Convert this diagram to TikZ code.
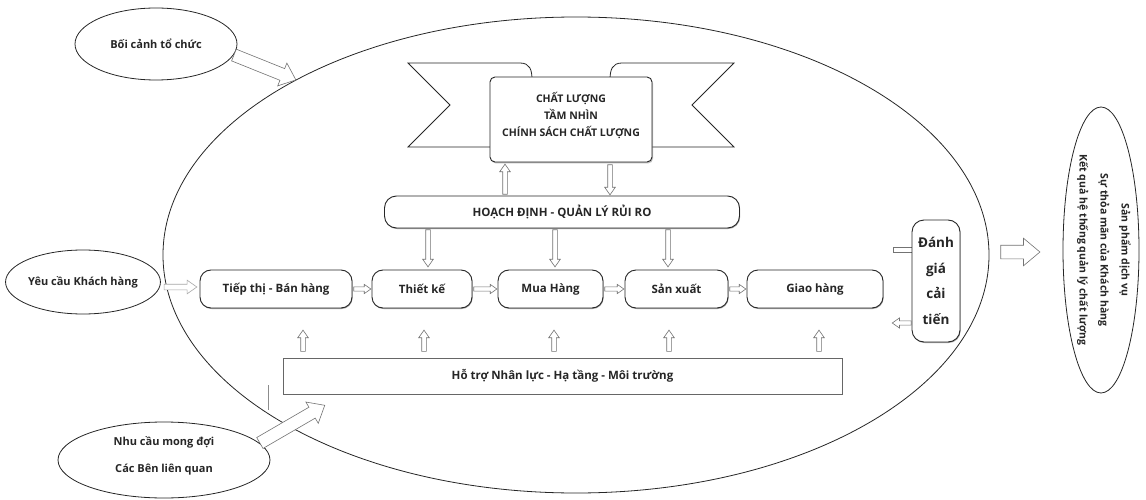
\documentclass[tikz,border=0pt]{standalone}
\usepackage{fontspec}
\setmainfont{Open Sans}
\usetikzlibrary{shapes.geometric,shapes.arrows,calc,shadows}
\newcommand\blockarrow[3][]{%
  \path let \p1=($(#3)-(#2)$), \n1={veclen(\x1,\y1)}, \n2={atan2(\y1,\x1)} in
    node[arr,#1,minimum height=\n1,rotate=\n2,anchor=tail] at (#2) {};}
\tikzset{
  every node/.style={font=\bfseries\fontsize{11.5}{13}\selectfont, text=black!85},
  oval/.style={ellipse, draw=black!85, line width=0.8pt, fill=white, inner sep=0pt, align=center},
  proc/.style={draw=black!85, line width=0.9pt, rounded corners=11pt, fill=white, minimum height=38,
    inner sep=0pt, font=\bfseries\fontsize{11.5}{13}\selectfont,
    drop shadow={shadow xshift=0.6pt, shadow yshift=-1pt, fill=black!60, opacity=0.6}},
  arr/.style={single arrow, draw=black!55, fill=white, line width=0.6pt, inner xsep=0pt,
    single arrow head indent=0pt},
  arrsmall/.style={inner ysep=2pt, single arrow head extend=3pt, single arrow tip angle=70},
  arrbig/.style={inner ysep=6pt, single arrow head extend=6pt, single arrow tip angle=80},
}
\begin{document}
\begin{tikzpicture}[x=1pt,y=-1pt]
\useasboundingbox (0,0) rectangle (1146,500);
% outer shapes
\node[oval, minimum width=826, minimum height=476] (big) at (576,255) {};
\node[oval, minimum width=162, minimum height=72, font=\bfseries\fontsize{11}{13}\selectfont] (ctx) at (156,44) {Bối cảnh tổ chức};
\node[oval, minimum width=146, minimum height=64, font=\bfseries\fontsize{11}{13}\selectfont] (cust) at (83,282) {Yêu cầu Khách hàng};
\node[oval, minimum width=212, minimum height=76, font=\bfseries\fontsize{11}{27}\selectfont] (stake) at (164,460) {};
\node[align=center, font=\bfseries\fontsize{11}{27}\selectfont] (staketxt) at (164,456) {Nhu cầu mong đợi\\Các Bên liên quan};
\node[oval, minimum width=76, minimum height=286] (outE) at (1101,250) {};
\node[rotate=-90, align=center, font=\bfseries\fontsize{10.5}{21}\selectfont] (outtxt) at (1104,250)
  {Sản phẩm dịch vụ\\Sự thỏa mãn của Khách hàng\\Kết quả hệ thống quản lý chất lượng};
% banner ribbons
\draw[black!85, line width=0.8pt, fill=white] (408,63) -- (520,63) .. controls (530,63) and (532,70) .. (532,80)
  -- (532,147) -- (408,147) -- (450,105) -- cycle;
\draw[black!85, line width=0.8pt, fill=white] (734,63) -- (622,63) .. controls (612,63) and (610,70) .. (610,80)
  -- (610,147) -- (734,147) -- (692,105) -- cycle;
\node[draw=black!85, line width=0.9pt, fill=white, rounded corners=5pt, minimum width=162, minimum height=85,
  drop shadow={shadow xshift=1pt, shadow yshift=-1.5pt, fill=black!50, opacity=0.5}] (banner) at (571,119.5) {};
\node[align=center, font=\bfseries\fontsize{10.5}{17}\selectfont] (bannertxt) at (571,115)
  {CHẤT LƯỢNG\\TẦM NHÌN\\CHÍNH SÁCH CHẤT LƯỢNG};
% planning
\node[proc, rounded corners=12pt, minimum width=355, minimum height=32] (plan) at (562,212) {HOẠCH ĐỊNH - QUẢN LÝ RỦI RO};
% processes
\node[proc, minimum width=152] (p1) at (276,289) {Tiếp thị - Bán hàng};
\node[proc, minimum width=100] (p2) at (422,289) {Thiết kế};
\node[proc, minimum width=105] (p3) at (550.5,289) {Mua Hàng};
\node[proc, minimum width=103] (p4) at (676.5,289) {Sản xuất};
\node[proc, minimum width=136] (p5) at (815,289) {Giao hàng};
% evaluation stub behind box
\draw[black!55, line width=0.6pt, fill=white] (893,247.5) rectangle (914,252.5);
\node[proc, rounded corners=12pt, minimum width=48, minimum height=122, align=center,
  font=\bfseries\fontsize{13.5}{25.5}\selectfont] (eval) at (936,281) {Đánh\\giá\\cải\\tiến};
% support
\node[draw=black!60, line width=0.8pt, fill=white, minimum width=559, minimum height=36, inner sep=0pt,
  font=\bfseries\fontsize{11.5}{13}\selectfont] (supp) at (562.5,376)
  {Hỗ trợ Nhân lực - Hạ tầng - Môi trường};
\draw[black!45, line width=0.6pt] ($(supp.south west)+(-14,-9)$) coordinate (stray1) -- ++(0,25);
% arrows banner <-> plan
\coordinate (u1) at ($(plan.north)+(-57,-1)$);
\coordinate (u2) at ($(u1 |- banner.south)+(0,2)$);
\blockarrow[arrsmall]{u1}{u2}
\coordinate (d1) at ($(banner.south)+(39,2)$);
\coordinate (d2) at ($(d1 |- plan.north)+(0,-1)$);
\blockarrow[arrsmall]{d1}{d2}
% plan -> processes
\foreach \q/\dx in {p2/6, p3/4.5, p4/-8.5} {
  \coordinate (pt-\q) at ($(\q.north)+(\dx,-3)$);
  \coordinate (ps-\q) at ($(pt-\q |- plan.south)+(0,1)$);
  \blockarrow[arrsmall]{ps-\q}{pt-\q}
}
% process chain
\foreach \a/\b in {p1/p2, p2/p3, p3/p4, p4/p5} {
  \coordinate (hs-\a) at ($(\a.east)+(1,0)$);
  \coordinate (ht-\a) at ($(\b.west)+(-1,0)$);
  \blockarrow[arrsmall, inner ysep=1.8pt, single arrow head extend=2.5pt]{hs-\a}{ht-\a}
}
% support -> processes
\foreach \q/\dx in {p1/27, p2/2, p3/3.5, p4/-7.5, p5/4} {
  \coordinate (us-\q) at ($(\q.south)+(\dx,0)$);
  \coordinate (ub-\q) at ($(us-\q |- supp.north)+(0,-6)$);
  \coordinate (ut-\q) at ($(us-\q)+(0,22)$);
  \blockarrow[arrsmall]{ub-\q}{ut-\q}
}
% customer -> p1
\coordinate (c1) at ($(cust.east)+(3,5)$);
\coordinate (c2) at ($(p1.west)+(-3,-2)$);
\blockarrow[arrsmall, draw=black!35, inner ysep=2.5pt, single arrow head extend=4pt]{c1}{c2}
% evaluation feedback
\coordinate (e1) at ($(eval.west)+(0,42)$);
\coordinate (e2) at ($(eval.west)+(-19,42)$);
\blockarrow[arrsmall, inner ysep=1.8pt]{e1}{e2}
% big arrows
\blockarrow[arrbig]{ctx.-8}{big.148}
\coordinate (st) at ($(supp.south west)+(42,11)$);
\blockarrow[arrbig]{stake.10}{st}
\coordinate (o1) at ($(big.east)+(11,-3)$);
\coordinate (o2) at ($(outE.west)+(-23,2)$);
\blockarrow[arrbig, inner ysep=6.5pt, single arrow head extend=7pt]{o1}{o2}
\end{tikzpicture}
\end{document}
